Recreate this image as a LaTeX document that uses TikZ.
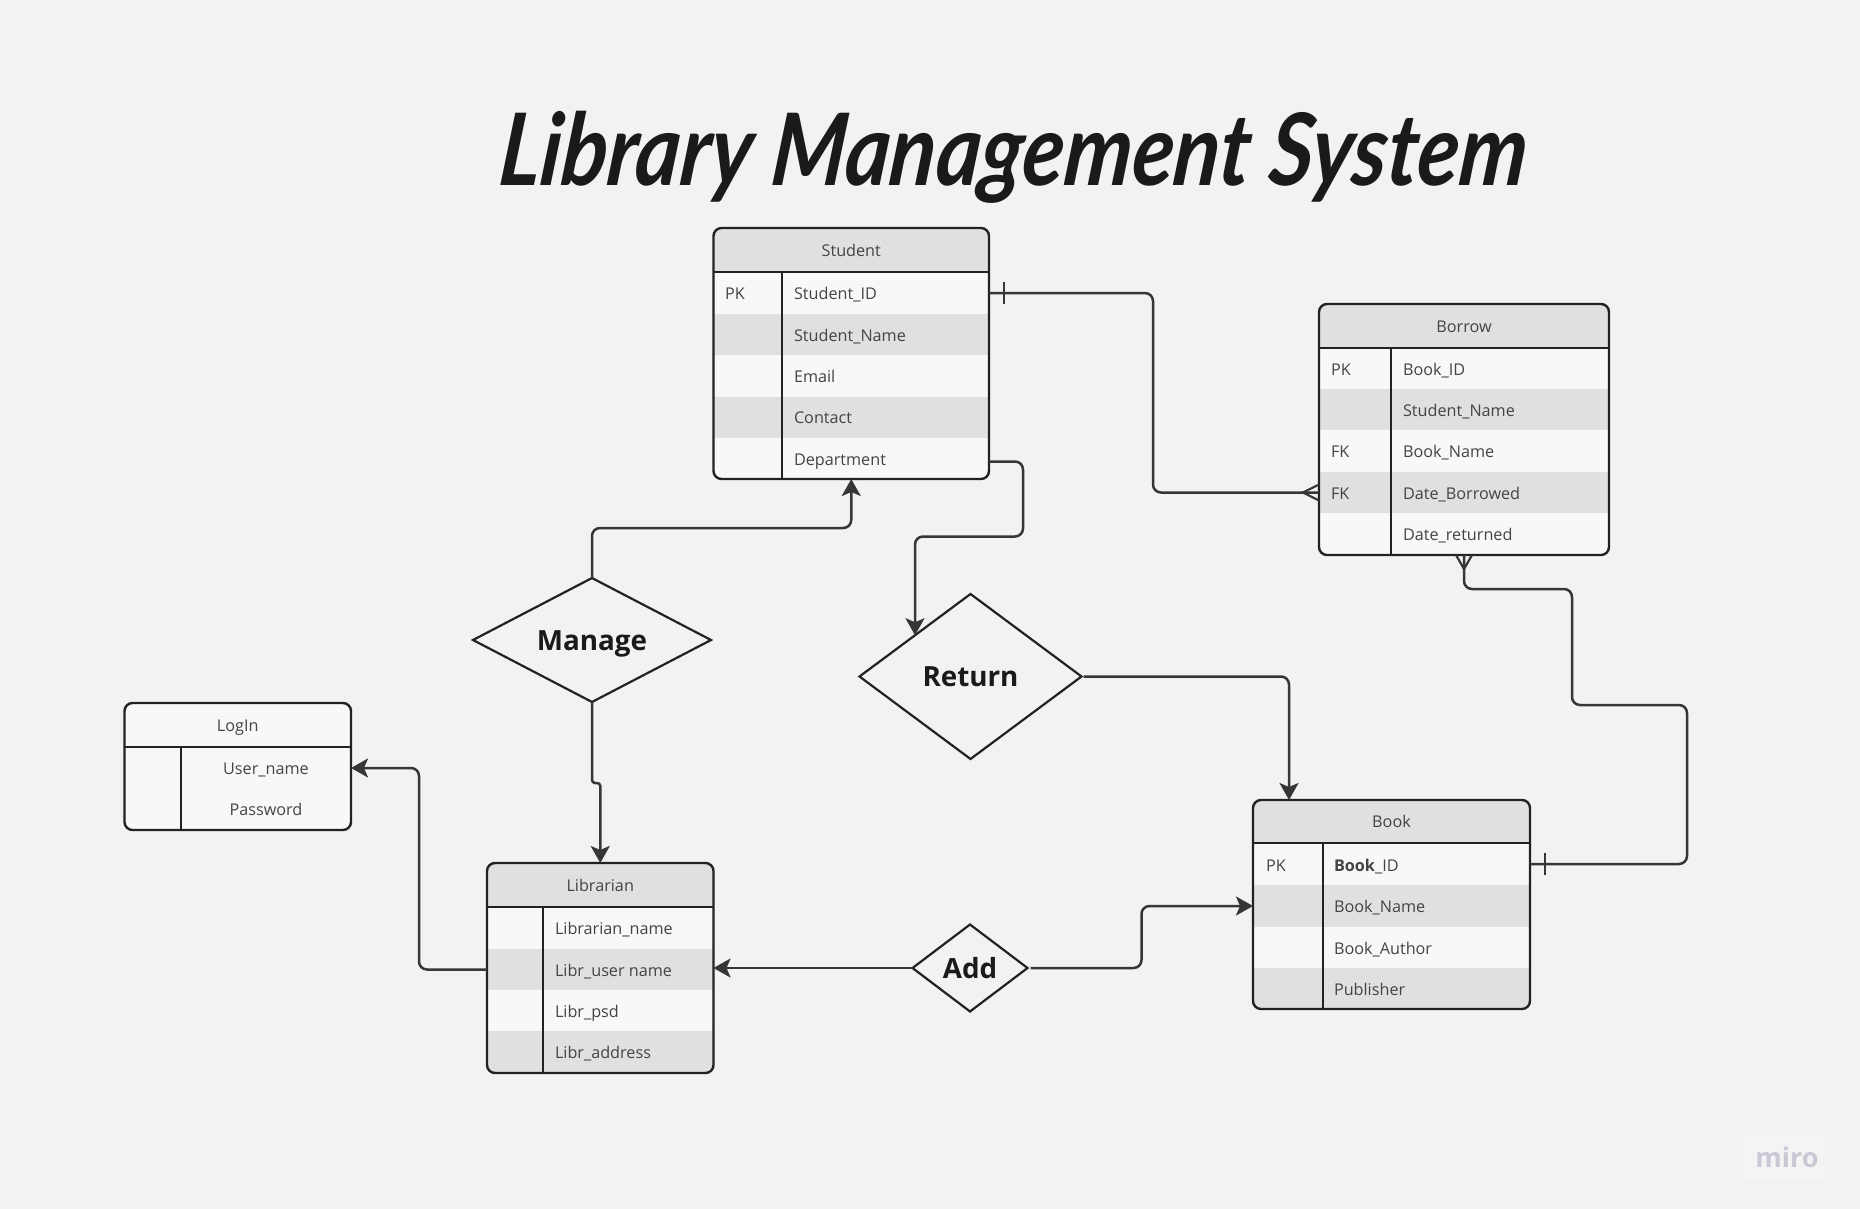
\documentclass[tikz,border=0pt]{standalone}
\usepackage{fontspec}
\usepackage{graphicx}
\setmainfont{Open Sans}
\newfontfamily\titlefont{Lato}[BoldItalicFeatures={FakeSlant=0.12}]
\usetikzlibrary{arrows.meta,shapes.geometric}
\definecolor{pagebg}{HTML}{F2F2F2}
\definecolor{rowlight}{HTML}{F8F8F8}
\definecolor{rowdark}{HTML}{E0E0E0}
\definecolor{edgeink}{HTML}{222222}
\definecolor{connink}{HTML}{363636}
\definecolor{textink}{HTML}{444444}
\definecolor{titleink}{HTML}{1A1A1A}
\definecolor{miroink}{HTML}{C9C9D6}
\definecolor{mirobg}{HTML}{F4F4F4}
\tikzset{
  band/.style={inner sep=0pt,outer sep=0pt,draw=none},
  cell/.style={inner sep=0pt,outer sep=0pt,text=textink,font=\fontsize{16.2}{20}\selectfont,text height=16pt,text depth=4pt},
  tableframe/.style={draw=edgeink,line width=2.4pt,rounded corners=8pt,inner sep=0pt,outer sep=0pt,fill=none},
  inner rule/.style={draw=edgeink,line width=2.6pt},
  rel/.style={draw=edgeink,line width=2.2pt,diamond,inner sep=0pt,outer sep=0pt,text=titleink,font=\fontsize{27.8}{34}\selectfont\bfseries,text height=26pt,text depth=6pt},
  conn/.style={draw=connink,line width=2.5pt,rounded corners=8pt},
  arr/.style={conn,-{Stealth[length=17pt,width=19pt,inset=4pt]}},
  endmark/.style={draw=connink,line width=2.2pt},
}
\newcommand\erband[6]{\node[band,fill=#6,minimum width={(#3-#2)*1pt},minimum height={(#5-#4)*1pt}] (#1) at ({(#2+#3)/2},{(#4+#5)/2}) {};}
\newcommand\erbegin[8]{%
  \def\erxa{#2}\def\erxb{#4}%
  \begin{scope}
  \clip[rounded corners=8pt] (#2,#3) rectangle (#4,#5);
  \erband{#1h}{#2}{#4}{#3}{#6}{#7}
  \node[cell] (#1title) at (#1h.center) {#8};
}
\newcommand\errow[5]{\erband{#1}{\erxa}{\erxb}{#2}{#3}{#4}}
\newcommand\erend[6]{%
  \end{scope}
  \coordinate (#1dtop) at (#6,#5);
  \coordinate (#1dbot) at (#6,#4);
  \node[tableframe,minimum width={(#3-#2)*1pt},minimum height={(#4-\ertopy)*1pt}] (#1) at ({(#2+#3)/2},{(\ertopy+#4)/2}) {};
  \draw[inner rule] (#1h.south west) -- (#1h.south east);
  \draw[inner rule] (#1dtop) -- (#1dbot);
}
\begin{document}
\begin{tikzpicture}[x=1pt,y=-1pt]
\useasboundingbox[fill=pagebg] (0,0) rectangle (1860,1209);

% Title
\node[inner sep=0pt,text=titleink,anchor=center] (title) at (1011,157) {\scalebox{1}[1.17]{\resizebox{1027pt}{!}{\titlefont\bfseries\itshape Library Management System}}};

% Student
\def\ertopy{228}
\erbegin{st}{713.5}{228}{989}{479}{272}{rowdark}{Student}
\errow{sta}{272}{314}{rowlight}{}
\errow{stb}{314}{355}{rowdark}{}
\errow{stc}{355}{397}{rowlight}{}
\errow{std}{397}{438}{rowdark}{}
\errow{ste}{438}{479}{rowlight}{}
\node[cell,anchor=west] (stak) at (725,293) {PK};
\node[cell,anchor=west] (stat) at (794,293) {Student\_ID};
\node[cell,anchor=west] (stbt) at (794,335) {Student\_Name};
\node[cell,anchor=west] (stct) at (794,376) {Email};
\node[cell,anchor=west] (stdt) at (794,417) {Contact};
\node[cell,anchor=west] (stet) at (794,459) {Department};
\erend{st}{713.5}{989}{479}{272}{782}

% Borrow
\def\ertopy{304}
\erbegin{bw}{1319}{304}{1609}{555}{348}{rowdark}{Borrow}
\errow{bwa}{348}{389}{rowlight}{}
\errow{bwb}{389}{430}{rowdark}{}
\errow{bwc}{430}{472}{rowlight}{}
\errow{bwd}{472}{513}{rowdark}{}
\errow{bwe}{513}{555}{rowlight}{}
\node[cell,anchor=west] (bwak) at (1331,369) {PK};
\node[cell,anchor=west] (bwck) at (1331,451) {FK};
\node[cell,anchor=west] (bwdk) at (1331,493) {FK};
\node[cell,anchor=west] (bwat) at (1403,369) {Book\_ID};
\node[cell,anchor=west] (bwbt) at (1403,410) {Student\_Name};
\node[cell,anchor=west] (bwct) at (1403,451) {Book\_Name};
\node[cell,anchor=west] (bwdt) at (1403,493) {Date\_Borrowed};
\node[cell,anchor=west] (bwet) at (1403,534) {Date\_returned};
\erend{bw}{1319}{1609}{555}{348}{1391}

% LogIn
\def\ertopy{703}
\erbegin{lg}{124.5}{703}{351}{830}{747}{rowlight}{LogIn}
\errow{lga}{747}{789}{rowlight}{}
\errow{lgb}{789}{830}{rowlight}{}
\node[cell] (lgat) at (266,768) {User\_name};
\node[cell] (lgbt) at (266,809) {Password};
\erend{lg}{124.5}{351}{830}{747}{181}

% Librarian
\def\ertopy{863}
\erbegin{lb}{487}{863}{713.5}{1073}{907}{rowdark}{Librarian}
\errow{lba}{907}{949}{rowlight}{}
\errow{lbb}{949}{990}{rowdark}{}
\errow{lbc}{990}{1031}{rowlight}{}
\errow{lbd}{1031}{1073}{rowdark}{}
\node[cell,anchor=west] (lbat) at (555,928) {Librarian\_name};
\node[cell,anchor=west] (lbbt) at (555,970) {Libr\_user name};
\node[cell,anchor=west] (lbct) at (555,1011) {Libr\_psd};
\node[cell,anchor=west] (lbdt) at (555,1052) {Libr\_address};
\erend{lb}{487}{713.5}{1073}{907}{543}

% Book
\def\ertopy{800}
\erbegin{bk}{1253}{800}{1530}{1009}{843}{rowdark}{Book}
\errow{bka}{843}{885}{rowlight}{}
\errow{bkb}{885}{927}{rowdark}{}
\errow{bkc}{927}{968}{rowlight}{}
\errow{bkd}{968}{1009}{rowdark}{}
\node[cell,anchor=west] (bkak) at (1266,865) {PK};
\node[cell,anchor=west] (bkat) at (1334,865) {\textbf{Book}\_ID};
\node[cell,anchor=west] (bkbt) at (1334,906) {Book\_Name};
\node[cell,anchor=west] (bkct) at (1334,948) {Book\_Author};
\node[cell,anchor=west] (bkdt) at (1334,989) {Publisher};
\erend{bk}{1253}{1530}{1009}{843}{1323}

% Relationship diamonds
\node[rel,minimum width=238pt,minimum height=124pt,aspect=1.92] (manage) at (592,640) {Manage};
\node[rel,minimum width=222pt,minimum height=165pt,aspect=1.35] (return) at (970.5,676.5) {Return};
\node[rel,minimum width=115pt,minimum height=87pt,aspect=1.32] (add) at (970,968) {Add};

% Connectors
\coordinate (bkin) at (1289,800);
\draw[conn] (sta.east) -- ++(164,0) |- (bwd.west);
\draw[endmark] (sta.east) ++(15,-11) -- ++(0,22);
\draw[endmark] (bwd.west) ++(0,-8) -- ++(-16,8) -- ++(16,8);

\draw[arr] (ste.east) ++(0,3) -- ++(34,0) -- ++(0,75) -| (return.north west);

\draw[arr] (manage.north) -- ++(0,-50) -| (st.south);
\draw[arr,rounded corners=3pt] (manage.south) -- ++(0,81) -| (lb.north);
\draw[arr] (lbb.west) -- ++(-68,0) |- (lga.east);
\draw[arr] (add.west) -- (lbb.east |- add.west);
\draw[arr] (add.east) ++(3,0) -- ++(111,0) |- (bkb.west);
\draw[arr] (return.east) ++(2,0) -| (bkin);

\draw[conn] (bw.south) -- ++(0,34) -- ++(108,0) -- ++(0,116) -- ++(115,0) |- (bka.east);
\draw[endmark] (bw.south) ++(-8,0) -- ++(8,14) -- ++(8,-14);
\draw[endmark] (bka.east) ++(15,-11) -- ++(0,22);

% Watermark
\node[fill=mirobg,minimum width=86pt,minimum height=45pt,inner sep=0pt,text=miroink,font=\fontsize{27}{30}\selectfont\bfseries] (miro) at (1787,1157) {miro};
\end{tikzpicture}
\end{document}
